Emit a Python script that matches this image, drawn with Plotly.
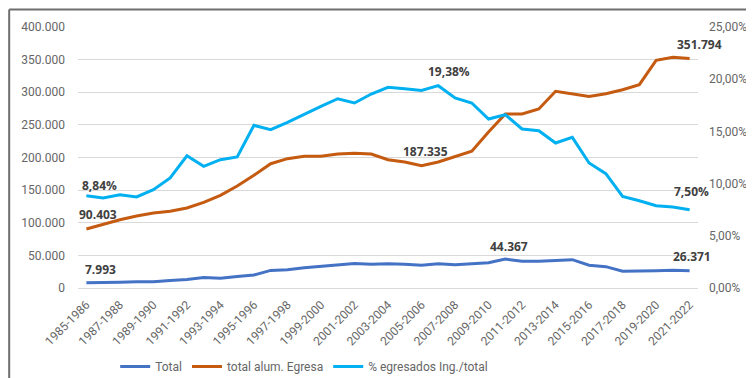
import plotly.graph_objects as go

cursos = ["1985-1986", "1986-1987", "1987-1988", "1988-1989", "1989-1990", "1990-1991",
          "1991-1992", "1992-1993", "1993-1994", "1994-1995", "1995-1996", "1996-1997",
          "1997-1998", "1998-1999", "1999-2000", "2000-2001", "2001-2002", "2002-2003",
          "2003-2004", "2004-2005", "2005-2006", "2006-2007", "2007-2008", "2008-2009",
          "2009-2010", "2010-2011", "2011-2012", "2012-2013", "2013-2014", "2014-2015",
          "2015-2016", "2016-2017", "2017-2018", "2018-2019", "2019-2020", "2020-2021",
          "2021-2022"]

total = [7993, 8000, 9000, 9500, 9500, 11500, 13000, 16000, 15000, 17500, 20000, 27000,
         28000, 31000, 33000, 35500, 37500, 36500, 37300, 36300, 34800, 37300, 35800,
         37300, 38800, 44367, 40900, 40900, 42000, 43400, 34800, 32700, 25600, 25600,
         26500, 27100, 26371]

total_egresa = [90403, 98000, 104700, 110300, 115000, 117500, 122600, 131300, 142000,
                156300, 172700, 190500, 198200, 201800, 202000, 205300, 206400, 205300,
                196600, 193100, 187335, 193100, 201800, 209500, 239000, 266700, 266700,
                274300, 301400, 297800, 293700, 297800, 303900, 311600, 349000, 353500,
                351794]

pct_egresados = [8.84, 8.62, 8.94, 8.72, 9.42, 10.54, 12.67, 11.65, 12.29, 12.55, 15.58,
                 15.16, 15.87, 16.67, 17.40, 18.13, 17.72, 18.58, 19.22, 19.09, 18.93,
                 19.38, 18.20, 17.72, 16.19, 16.60, 15.23, 15.07, 13.89, 14.43, 11.97,
                 10.95, 8.78, 8.36, 7.88, 7.76, 7.50]

left_ticks = [0, 50000, 100000, 150000, 200000, 250000, 300000, 350000, 400000]
right_ticks = [0, 5, 10, 15, 20, 25]

FONT = "Roboto, Arial"
GRAY = "#666666"

def fmt_int(v):
    return f"{v:,}".replace(",", ".")

def fmt_pct(v):
    return f"{v:.2f}%".replace(".", ",")

fig = go.Figure()
fig.add_trace(go.Scatter(x=cursos, y=total, name="Total", mode="lines",
                         line=dict(color="#4472C4", width=3)))
fig.add_trace(go.Scatter(x=cursos, y=total_egresa, name="total alum. Egresa", mode="lines",
                         line=dict(color="#C55A11", width=3)))
fig.add_trace(go.Scatter(x=cursos, y=pct_egresados, name="% egresados Ing./total", mode="lines",
                         line=dict(color="#00B0F0", width=3), yaxis="y2"))

# data labels (index, series, axis, formatter, xshift, yshift)
labels = [
    (0, total, "y", fmt_int, 14, 13),
    (25, total, "y", fmt_int, 4, 13),
    (36, total, "y", fmt_int, 2, 14),
    (0, total_egresa, "y", fmt_int, 12, 15),
    (20, total_egresa, "y", fmt_int, 4, 14),
    (36, total_egresa, "y", fmt_int, 10, 14),
    (0, pct_egresados, "y2", fmt_pct, 13, 10),
    (21, pct_egresados, "y2", fmt_pct, 11, 14),
    (36, pct_egresados, "y2", fmt_pct, 2, 18),
]
for i, series, yref, f, xs, ys in labels:
    fig.add_annotation(x=cursos[i], y=series[i], xref="x", yref=yref, text=f(series[i]),
                       showarrow=False, xshift=xs, yshift=ys,
                       font=dict(family="Open Sans, Roboto", size=12, color="#404040", weight="bold"))

# chart border
fig.add_shape(type="line", xref="paper", yref="paper", x0=-0.111, x1=1.1, y0=1.067, y1=1.067,
              line=dict(color="#6e6e6e", width=2))
fig.add_shape(type="line", xref="paper", yref="paper", x0=-0.111, x1=-0.111, y0=-0.5, y1=1.067,
              line=dict(color="#6e6e6e", width=2))
fig.add_shape(type="line", xref="paper", yref="paper", x0=1.1, x1=1.1, y0=-0.5, y1=1.067,
              line=dict(color="#d0d0d0", width=1))

fig.update_layout(
    width=754, height=378,
    margin=dict(l=70, r=64, t=19, b=98, autoexpand=False),
    paper_bgcolor="white", plot_bgcolor="white",
    separators=",.",
    font=dict(family=FONT, size=12, color=GRAY),
    showlegend=True,
    legend=dict(orientation="h", x=0.06, y=-0.245, xanchor="left", yanchor="top",
                font=dict(family=FONT, size=12, color=GRAY), itemwidth=30),
    xaxis=dict(type="category", range=[-0.5, 36.5], tickangle=-45, automargin=False,
               tickvals=cursos[::2], ticktext=cursos[::2], showgrid=False,
               showline=True, linecolor="#d9d9d9", linewidth=1, ticks="",
               ticklabelstandoff=4,
               tickfont=dict(family=FONT, size=12, color=GRAY)),
    yaxis=dict(range=[0, 400000], tickvals=left_ticks, automargin=False,
               ticktext=[fmt_int(v) for v in left_ticks],
               showgrid=True, gridcolor="#d9d9d9", gridwidth=1, zeroline=False,
               ticklabelstandoff=12, tickfont=dict(family=FONT, size=12, color=GRAY)),
    yaxis2=dict(range=[0, 25], overlaying="y", side="right", tickvals=right_ticks,
                automargin=False,
                ticktext=[fmt_pct(v) for v in right_ticks], showgrid=False, zeroline=False,
                ticklabelstandoff=10, tickfont=dict(family=FONT, size=12, color=GRAY)),
)

fig.write_html("out.html")
